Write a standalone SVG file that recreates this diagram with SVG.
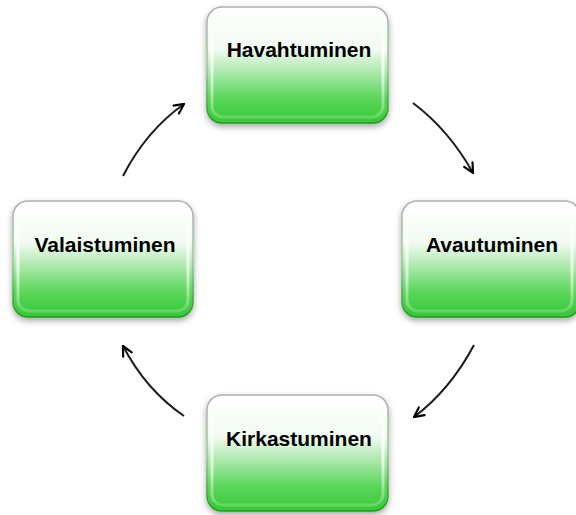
<svg xmlns="http://www.w3.org/2000/svg" width="576" height="515" viewBox="0 0 576 515">
<defs>
<linearGradient id="fillG" x1="0" y1="0" x2="0" y2="1">
<stop offset="0" stop-color="#ffffff"/>
<stop offset="0.36" stop-color="#f2fbf2"/>
<stop offset="0.55" stop-color="#b0eab0"/>
<stop offset="0.78" stop-color="#5cd65c"/>
<stop offset="1" stop-color="#36c836"/>
</linearGradient>
<linearGradient id="strokeG" x1="0" y1="0" x2="0" y2="1">
<stop offset="0" stop-color="#b0b0b0"/>
<stop offset="0.5" stop-color="#9ac89a"/>
<stop offset="1" stop-color="#1e9a1e"/>
</linearGradient>
<linearGradient id="sideG" x1="0" y1="0" x2="0" y2="1">
<stop offset="0" stop-color="#ffffff" stop-opacity="0"/>
<stop offset="0.4" stop-color="#ffffff" stop-opacity="0.9"/>
<stop offset="1" stop-color="#ffffff" stop-opacity="0.2"/>
</linearGradient>
<filter id="sh" x="-10%" y="-10%" width="120%" height="130%">
<feDropShadow dx="0" dy="3" stdDeviation="3" flood-color="#000" flood-opacity="0.35"/>
</filter>
<marker id="ah" markerWidth="12" markerHeight="12" refX="9" refY="5" orient="auto" markerUnits="userSpaceOnUse" viewBox="0 0 10 10">
<path d="M1,1 L9,5 L1,9" fill="none" stroke="#000" stroke-width="1.8" stroke-linejoin="miter" stroke-linecap="round"/>
</marker>
</defs>
<style>
.box{fill:url(#fillG);stroke:url(#strokeG);stroke-width:1.5;filter:url(#sh)}
.side{fill:none;stroke:url(#sideG);stroke-width:3}
.lbl{font-family:"Liberation Sans",Arial,sans-serif;font-weight:bold;font-size:21px;fill:#000;text-anchor:middle}
.arr{fill:none;stroke:#1a1a1a;stroke-width:2;marker-end:url(#ah)}
</style>
<g id="connectors">
<path class="arr" d="M123,176 Q146,131 184,104"/>
<path class="arr" d="M413,103 Q449,130 473,173"/>
<path class="arr" d="M474,345 Q450,390 414,417"/>
<path class="arr" d="M184,416 Q146,390 123,346"/>
</g>
<g id="node-havahtuminen">
<rect class="box" x="207" y="7" width="181" height="116" rx="15"/>
<rect class="side" x="212" y="12" width="171" height="105" rx="11"/>
<text class="lbl" x="299" y="57">Havahtuminen</text>
</g>
<g id="node-avautuminen">
<rect class="box" x="402" y="201" width="178" height="116" rx="15"/>
<rect class="side" x="407" y="206" width="165" height="105" rx="11"/>
<text class="lbl" x="492" y="252">Avautuminen</text>
</g>
<g id="node-valaistuminen">
<rect class="box" x="13" y="201" width="180" height="116" rx="15"/>
<rect class="side" x="18" y="206" width="170" height="105" rx="11"/>
<text class="lbl" x="105" y="252">Valaistuminen</text>
</g>
<g id="node-kirkastuminen">
<rect class="box" x="207" y="395" width="181" height="116" rx="15"/>
<rect class="side" x="212" y="400" width="171" height="105" rx="11"/>
<text class="lbl" x="299" y="446">Kirkastuminen</text>
</g>
</svg>
